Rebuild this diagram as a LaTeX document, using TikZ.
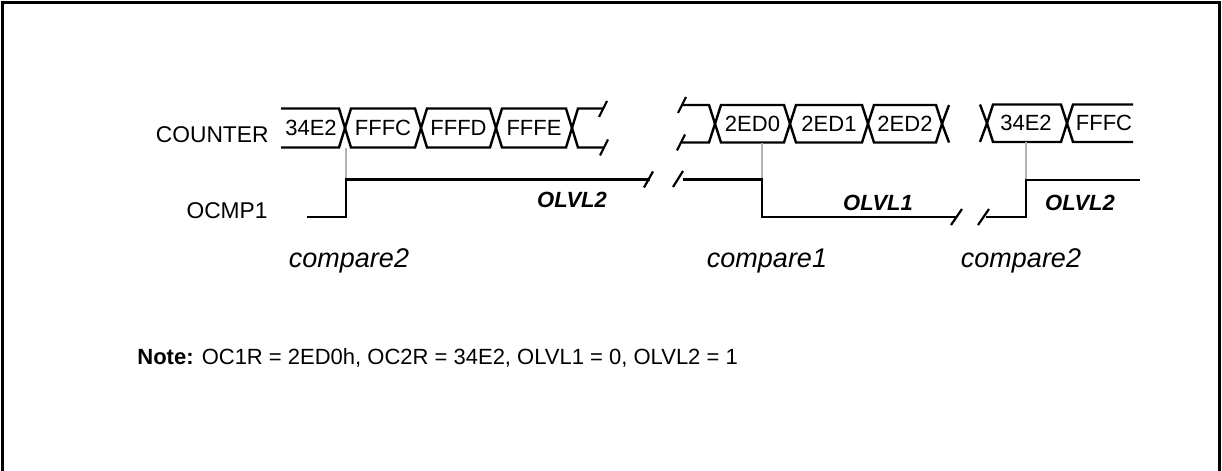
\documentclass[tikz,border=0pt]{standalone}
\usepackage{fontspec}
\setmainfont{Liberation Sans}
\usepackage{tikz}
\tikzset{
  bus/.style={line width=1.2pt},
  wave/.style={line width=1.2pt},
  brk/.style={line width=1.1pt},
  cmpline/.style={line width=0.6pt, black!30},
  frame/.style={line width=1.6pt},
  txt/.style={inner sep=0pt, font=\fontsize{11}{13}\selectfont},
  lvl/.style={inner sep=0pt, font=\fontsize{11}{13}\selectfont\bfseries\itshape},
  cmp/.style={inner sep=0pt, anchor=base, font=\fontsize{13.5}{16}\selectfont\itshape}
}
\begin{document}
\begin{tikzpicture}[x=0.5pt, y=-0.5pt]
		\useasboundingbox (0,0) rectangle (1222,471);
		% frame, open at the bottom
		\draw[frame] (2.5,480) -- (2.5,2.5) -- (1219.5,2.5) -- (1219.5,480);
		% signal names
		\node[txt, anchor=east, font=\fontsize{11.4}{13}\selectfont] (counter) at (269,135) {COUNTER};
		\node[txt, anchor=east, font=\fontsize{11.4}{13}\selectfont] (ocmp) at (268,211) {OCMP1};
		% counter bus, first part
		\draw[bus] (281,108.5) -- (339,108.5) -- (345,128) -- (339,147.5) -- (281,147.5);
		\node[txt] (v0) at (311,128) {34E2};
		\foreach \p/\q/\v/\n in {345/421/FFFC/v1, 421/496/FFFD/v2, 496/572/FFFE/v3} {
			\draw[bus] (\p,128) -- (\p+6,108.5) -- (\q-6,108.5) -- (\q,128) -- (\q-6,147.5) -- (\p+6,147.5) -- cycle;
			\node[txt] (\n) at ({(\p+\q)/2},128) {\v};
		}
		\draw[bus] (603,108.5) -- (578,108.5) -- (572,128) -- (578,147.5) -- (603,147.5);
		\draw[brk] (599,117) -- (607,101) (600,155.5) -- (608,139.5);
		% counter bus, second part
		\draw[brk] (678,113) -- (686,97) (677,150.5) -- (685,134.5);
		\draw[bus] (682,105) -- (709,105) -- (715,123.75) -- (709,142.5) -- (682,142.5);
		\foreach \p/\q/\v/\n in {715/790/2ED0/v4, 790/868/2ED1/v5, 868/942/2ED2/v6} {
			\draw[bus] (\p,123.75) -- (\p+6,105) -- (\q-6,105) -- (\q,123.75) -- (\q-6,142.5) -- (\p+6,142.5) -- cycle;
			\node[txt] (\n) at ({(\p+\q)/2},123.75) {\v};
		}
		\draw[bus] (949,105) -- (942,123.75) -- (949,142.5);
		% counter bus, third part
		\draw[bus] (980,104.5) -- (987,123.25) -- (980,142);
		\draw[bus] (987,123.25) -- (993,104.5) -- (1061,104.5) -- (1067,123.25) -- (1061,142) -- (993,142) -- cycle;
		\node[txt] (v7) at (1026,123.25) {34E2};
		\draw[bus] (1133,104.5) -- (1073,104.5) -- (1067,123.25) -- (1073,142) -- (1133,142);
		\node[txt] (v8) at (1104,123.25) {FFFC};
		% compare events
		\coordinate (c1) at (346,147.5);
		\coordinate (c2) at (762,142.5);
		\coordinate (c3) at (1026,142);
		\draw[cmpline] (c1) -- (346,179.5) (c2) -- (762,179.5) (c3) -- (1026,180);
		% OCMP1 output
		\draw[wave] (307,217) -- (346,217) -- (346,179.5) -- (650,179.5);
		\draw[brk] (644,187.5) -- (653,171.5) (673,187) -- (683,171);
		\draw[wave] (683,179.5) -- (762,179.5) -- (762,217) -- (956,217);
		\draw[brk] (951,225) -- (962,209) (978,225) -- (989,209);
		\draw[wave] (986,217) -- (1026,217) -- (1026,180) -- (1140,180);
		\node[lvl] (l1) at (572,200) {OLVL2};
		\node[lvl] (l2) at (878,203) {OLVL1};
		\node[lvl] (l3) at (1080,203) {OLVL2};
		\node[cmp] (k1) at (349,267) {compare2};
		\node[cmp] (k2) at (767,267) {compare1};
		\node[cmp] (k3) at (1021,267) {compare2};
		% note
		\node[txt, anchor=base west] (note) at (137,364) {\textbf{Note:} OC1R = 2ED0h, OC2R = 34E2, OLVL1 = 0, OLVL2 = 1};
	\end{tikzpicture}
\end{document}
